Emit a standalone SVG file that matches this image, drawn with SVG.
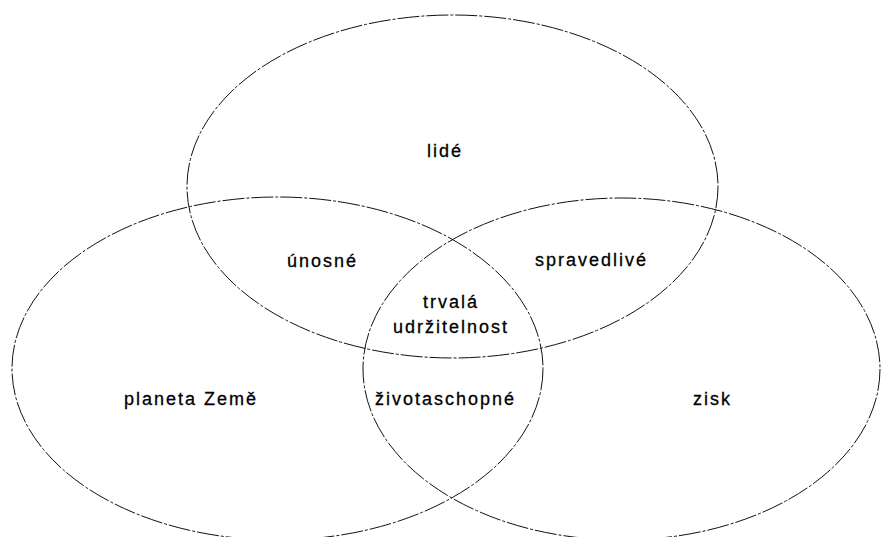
<svg xmlns="http://www.w3.org/2000/svg" width="881" height="537" viewBox="0 0 881 537">
<style>
.set{fill:none;stroke:#111;stroke-width:1;stroke-dasharray:22 2 3 2}
.lbl{font-family:"Liberation Sans",Arial,sans-serif;font-size:18px;letter-spacing:2px;fill:#000;stroke:#000;stroke-width:0.3}
</style>
<rect width="881" height="537" fill="#fff"/>
<g id="lide">
<ellipse class="set" cx="452.5" cy="186.5" rx="265.5" ry="171.5"/>
<text class="lbl" x="427" y="157">lidé</text>
</g>
<g id="planeta">
<ellipse class="set" cx="277.5" cy="368.5" rx="265.5" ry="171.5"/>
<text class="lbl" x="124" y="405">planeta Země</text>
</g>
<g id="zisk">
<ellipse class="set" cx="621.5" cy="369" rx="258.5" ry="171"/>
<text class="lbl" x="693" y="405">zisk</text>
</g>
<g id="unosne">
<text class="lbl" x="287" y="267">únosné</text>
</g>
<g id="spravedlive">
<text class="lbl" x="535" y="266">spravedlivé</text>
</g>
<g id="zivotaschopne">
<text class="lbl" x="375" y="405">životaschopné</text>
</g>
<g id="trvala">
<text class="lbl" x="423" y="308">trvalá</text>
<text class="lbl" x="393" y="333">udržitelnost</text>
</g>
<g id="connectors"></g>
</svg>
